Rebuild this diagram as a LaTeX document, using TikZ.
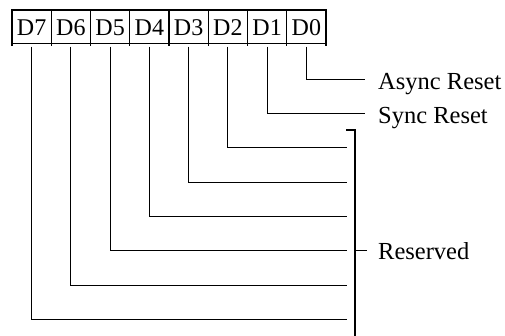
\documentclass[tikz,border=0pt]{standalone}
\usepackage{fontspec}
\setmainfont{Liberation Serif}
\usetikzlibrary{calc}
\begin{document}
\begin{tikzpicture}[x=1pt,y=-1pt,
  cellbox/.style={draw,line width=1.1pt,minimum width=39.25pt,minimum height=33.5pt,inner sep=0pt,outer sep=0pt},
  celltxt/.style={inner sep=0pt,anchor=base,font=\fontsize{24}{26}\selectfont},
  wire/.style={line width=1.1pt},
  lbl/.style={anchor=base west,inner sep=0pt,font=\fontsize{24.5}{27}\selectfont}]
\useasboundingbox (0,0) rectangle (505,335);
% register cells
\foreach \b [count=\i from 0] in {7,6,5,4,3,2,1,0}{
  \node[cellbox] (c\b) at ({12+39.25*\i+19.625},26.75) {};
  \node[celltxt] (t\b) at ({12+39.25*\i+19.625},35.5) {D\b};
}
% small overshoot ticks below the cells
\foreach \i in {0,...,8}{
  \draw[wire] ({12+39.25*\i},43.5) -- ({12+39.25*\i},46);
}
% bit wires
\foreach \b/\y/\e in {0/79.3/365,1/113.6/365,2/147.8/346.7,3/182.2/346.7,4/216.5/346.7,5/250.8/346.7,6/285.1/346.7,7/319.5/346.7}{
  \coordinate (s\b) at ($(c\b.south)+(0,3)$);
  \coordinate (k\b) at (s\b |- 0,\y);
  \coordinate (e\b) at (\e,\y);
  \draw[wire] (s\b) -- (k\b) -- (e\b);
}
% reserved bracket
\coordinate (bt) at (355,130);
\coordinate (btl) at (346,130);
\coordinate (bb) at (355,336);
\coordinate (bm) at (355,250.8);
\coordinate (bmr) at (366.7,250.8);
\draw[wire] (btl) -- (bt) -- (bb);
\draw[wire] (bm) -- (bmr);
% labels
\node[lbl] (async) at (378,89.5) {Async Reset};
\node[lbl] (sync) at (378,123.5) {Sync Reset};
\node[lbl] (res) at (378,259) {Reserved};
\end{tikzpicture}
\end{document}
